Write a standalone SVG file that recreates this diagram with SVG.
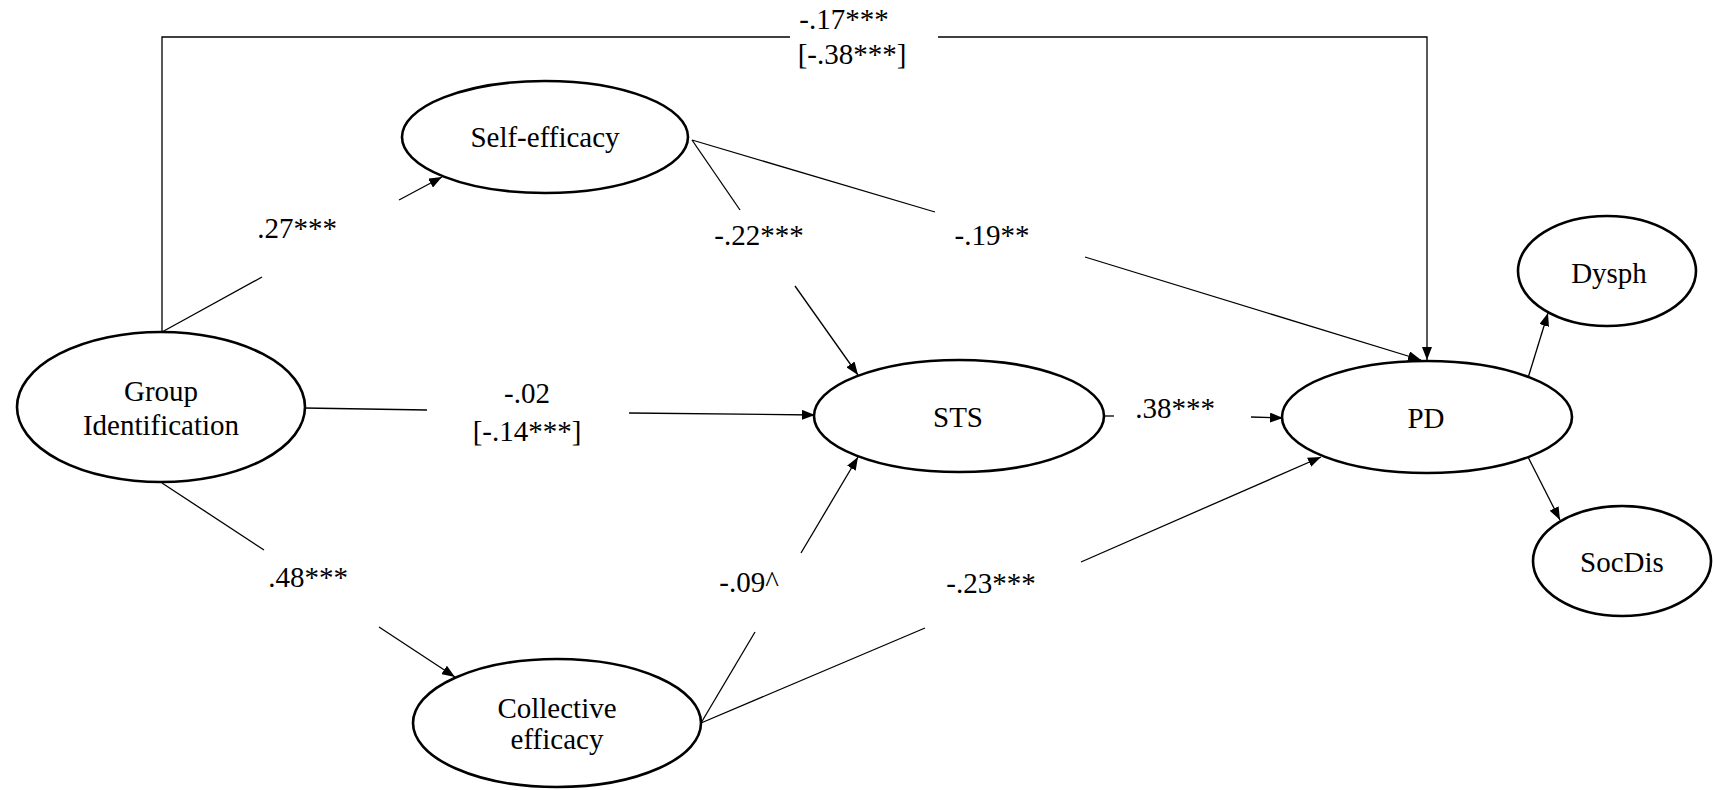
<svg xmlns="http://www.w3.org/2000/svg" width="1713" height="790" viewBox="0 0 1713 790">
<style>
.node ellipse{fill:#fff;stroke:#000;stroke-width:2.6}
text{font-size:29px;fill:#000;text-anchor:middle}
.conn path{fill:none;stroke:#000;stroke-width:1.3}
</style>
<defs>
<marker id="arr" markerUnits="userSpaceOnUse" markerWidth="14" markerHeight="10" refX="13" refY="5" orient="auto">
<path d="M0,0 L13,5 L0,10 z" fill="#000"/>
</marker>
</defs>
<rect width="1713" height="790" fill="#fff"/>
<g class="conn" id="connectors">
<path d="M162,332 L162,37 L790,37"/>
<path d="M938,37 L1427,37 L1427,360" marker-end="url(#arr)"/>
<path d="M162,332 L262,277"/>
<path d="M399,200 L442,177" marker-end="url(#arr)"/>
<path d="M304,408 L427,410"/>
<path d="M629,413 L815,415" marker-end="url(#arr)"/>
<path d="M162,483 L264,550"/>
<path d="M379,627 L455,677" marker-end="url(#arr)"/>
<path d="M692,140 L740,210"/>
<path d="M795,286 L858,375" marker-end="url(#arr)"/>
<path d="M692,140 L935,212"/>
<path d="M1085,257 L1421,360" marker-end="url(#arr)"/>
<path d="M701,723 L755,632"/>
<path d="M801,553 L858,457" marker-end="url(#arr)"/>
<path d="M701,723 L925,628"/>
<path d="M1081,562 L1321,457" marker-end="url(#arr)"/>
<path d="M1104,416 L1114,416"/>
<path d="M1251,417 L1283,418" marker-end="url(#arr)"/>
<path d="M1528,378 L1548,313" marker-end="url(#arr)"/>
<path d="M1528,457 L1560,520" marker-end="url(#arr)"/>
</g>
<g font-family="Liberation Serif, Times New Roman, Tinos, DejaVu Serif, serif">
<g id="labels">
<text x="844" y="29">-.17***</text>
<text x="852" y="64">[-.38***]</text>
<text x="297" y="238">.27***</text>
<text x="759" y="245">-.22***</text>
<text x="992" y="245">-.19**</text>
<text x="527" y="403">-.02</text>
<text x="527" y="441">[-.14***]</text>
<text x="1175" y="418">.38***</text>
<text x="308" y="587">.48***</text>
<text x="749" y="592">-.09^</text>
<text x="991" y="593">-.23***</text>
</g>
<g class="node" id="self-efficacy">
<ellipse cx="545" cy="137" rx="143" ry="56"/>
<text x="545" y="147">Self-efficacy</text>
</g>
<g class="node" id="group-identification">
<ellipse cx="161" cy="407" rx="144" ry="75"/>
<text x="161" y="401">Group</text>
<text x="161" y="435">Identification</text>
</g>
<g class="node" id="sts">
<ellipse cx="959" cy="416" rx="145" ry="56"/>
<text x="958" y="427">STS</text>
</g>
<g class="node" id="pd">
<ellipse cx="1427" cy="417" rx="145" ry="56"/>
<text x="1426" y="428">PD</text>
</g>
<g class="node" id="collective-efficacy">
<ellipse cx="557" cy="723" rx="144" ry="64"/>
<text x="557" y="718">Collective</text>
<text x="557" y="749">efficacy</text>
</g>
<g class="node" id="dysph">
<ellipse cx="1607" cy="271" rx="89" ry="55"/>
<text x="1609" y="283">Dysph</text>
</g>
<g class="node" id="socdis">
<ellipse cx="1622" cy="561" rx="89" ry="55"/>
<text x="1622" y="572">SocDis</text>
</g>
</g>
</svg>
